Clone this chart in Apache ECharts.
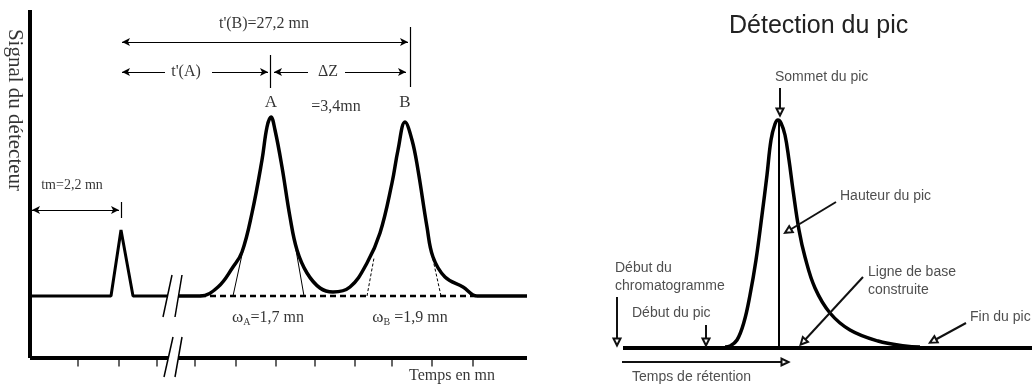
<!DOCTYPE html>
<html>
<head>
<meta charset="utf-8">
<script src="https://cdn.jsdelivr.net/npm/echarts@6/dist/echarts.min.js"></script>
<style>
  html, body { margin: 0; background: #fff; }
  #chart { width: 1033px; height: 389px; }
</style>
</head>
<body>
<div id="chart"></div>
<script>
// left panel: schematic time (x) vs detector signal (y)
const deadPeak = [[0.2, 15.5], [8.1, 15.5], [9.1, 32], [10.3, 15.5], [13.8, 15.5]];
const peaksAB = [
  [14.8, 15.5], [17.0, 15.5], [18.8, 17.75], [20.3, 22.75], [21.2, 26.5], [22.2, 36.25],
  [23.2, 49.5], [23.7, 57.75], [24.1, 60.25], [24.5, 57], [25.2, 47.75], [26.0, 35.25],
  [26.7, 27], [27.7, 21.25], [29.0, 17.5], [30.3, 16.5], [32.0, 17.75], [33.7, 23.75],
  [35.0, 31.25], [36.2, 43.75], [36.8, 52], [37.5, 59], [38.2, 54.5], [38.8, 47],
  [39.7, 32.75], [40.3, 25.25], [41.5, 20.25], [43.3, 17.75], [44.7, 15.5], [49.7, 15.5]
];
const tangentA = [[[20.3, 15.5], [21.3, 27]], [[27.4, 15.5], [26.6, 27]]];
const tangentB = [[[33.7, 15.5], [34.4, 25]], [[41.1, 15.5], [40.2, 25.75]]];
const timeTicks = [4.8, 8.9, 12.7, 16.5, 20.6, 24.6, 28.5, 32.5, 36.2, 40.2, 44.3];

// right panel: detected peak
const detectedPeak = [
  [12.5, 0.25], [13.0, 0.5], [13.7, 2.0], [14.4, 6.5], [15.0, 13.25], [15.6, 22],
  [16.2, 33.25], [16.7, 43.25], [17.1, 52], [17.5, 56], [17.8, 57], [18.1, 56.25],
  [18.5, 53.25], [18.9, 47], [19.3, 39.5], [19.9, 29.5], [20.5, 22.75], [21.5, 15],
  [23.0, 8.75], [25.0, 4.5], [27.8, 1.75], [30.5, 0.5], [32.0, 0.25]
];
const peakApex = [17.9, 57];

const SERIF = "'Liberation Serif', 'Times New Roman', serif";
const SANS = "'Liberation Sans', Arial, sans-serif";
const INK = '#000';
const GREY = '#222';

const chart = echarts.init(document.getElementById('chart'), null, { renderer: 'canvas' });

function line(panel, data, style, extra) {
  return Object.assign({
    type: 'line', xAxisIndex: panel, yAxisIndex: panel, data,
    symbol: 'none', silent: true, animation: false,
    lineStyle: Object.assign({ color: INK, width: 3 }, style)
  }, extra || {});
}

function seg(a, b, s0, s1) {
  return [{ coord: a, symbol: s0 || 'none' }, { coord: b, symbol: s1 || 'none' }];
}

function marks(panel, list, style, size) {
  return {
    type: 'line', xAxisIndex: panel, yAxisIndex: panel, data: [], silent: true, animation: false,
    markLine: {
      silent: true, animation: false, symbol: ['none', 'none'], symbolSize: size || 8,
      label: { show: false }, emphasis: { disabled: true },
      lineStyle: Object.assign({ color: INK, width: 1.2, type: 'solid' }, style),
      itemStyle: { color: style && style.color || INK },
      data: list
    }
  };
}

function notes(panel, list, font, color, size) {
  return {
    type: 'scatter', xAxisIndex: panel, yAxisIndex: panel, symbolSize: 0, silent: true,
    animation: false, clip: false,
    data: list.map(n => ({
      name: n.text, value: n.at,
      label: Object.assign({
        show: true, formatter: '{b}', color: color, fontFamily: font, fontSize: size,
        position: n.left ? 'right' : 'inside', distance: 0
      }, n.label || {})
    }))
  };
}

const omegaRich = {
  w: { fontFamily: SERIF, fontSize: 17, color: INK },
  s: { fontFamily: SERIF, fontSize: 10, color: INK, padding: [9, 0, 0, 0] },
  n: { fontFamily: SERIF, fontSize: 16, color: INK }
};

chart.setOption({
  backgroundColor: '#fff',
  animation: false,
  title: {
    text: 'Détection du pic', left: 724, top: 9,
    textStyle: { fontFamily: SANS, fontSize: 25, fontWeight: 'normal', color: GREY }
  },
  grid: [
    { left: 0, top: 0, width: 527, height: 389 },
    { left: 600, top: 0, width: 433, height: 389 }
  ],
  xAxis: [
    { gridIndex: 0, type: 'value', min: -3, max: 49.7, show: false },
    { gridIndex: 1, type: 'value', min: 0, max: 43.3, show: false }
  ],
  yAxis: [
    { gridIndex: 0, type: 'value', min: -7.75, max: 89.5, show: false },
    { gridIndex: 1, type: 'value', min: -10.25, max: 87, show: false }
  ],
  series: [
    // ---- left panel
    line(0, [[0, 0], [0, 87]], { width: 4 }),
    line(0, [[0, 0], [13.8, 0]], { width: 4 }),
    line(0, [[14.8, 0], [49.7, 0]], { width: 4 }),
    line(0, [[17.0, 15.5], [45.0, 15.5]], { width: 2.5, type: [6, 4] }),
    line(0, deadPeak, { width: 3 }),
    line(0, peaksAB, { width: 3.5 }, { smooth: 0.4 }),
    marks(0, tangentA.map(t => seg(t[0], t[1])), { width: 1 }),
    marks(0, tangentB.map(t => seg(t[0], t[1])), { width: 1, type: [3, 2] }),
    marks(0, [
      seg([13.3, 10.25], [14.2, 20.75]), seg([14.5, 10.25], [15.2, 20.75]),
      seg([13.4, -4.75], [14.3, 5.25]), seg([14.5, -4.75], [15.2, 5.25])
    ], { width: 1.5 }),
    marks(0, [
      seg([0.2, 37], [8.9, 37], 'arrow', 'arrow'),
      seg([9.1, 39], [9.1, 35]),
      seg([9.2, 79], [37.8, 79], 'arrow', 'arrow'),
      seg([9.2, 71.5], [13.5, 71.5], 'arrow'),
      seg([18.2, 71.5], [23.8, 71.5], 'none', 'arrow'),
      seg([24.4, 71.5], [27.8, 71.5], 'arrow'),
      seg([31.5, 71.5], [37.6, 71.5], 'none', 'arrow'),
      seg([24.0, 75.75], [24.0, 67.5]),
      seg([38.0, 82.75], [38.0, 67.75])
    ], { width: 1.2 }, [6, 8]),
    {
      type: 'scatter', xAxisIndex: 0, yAxisIndex: 0, silent: true, animation: false,
      symbol: 'rect', symbolSize: [1.5, 7], symbolOffset: [0, 5],
      itemStyle: { color: INK },
      data: timeTicks.map(t => [t, 0])
    },
    notes(0, [
      { text: 't\'(B)=27,2 mn', at: [23.4, 83.5] },
      { text: 't\'(A)', at: [15.6, 71.5] },
      { text: 'ΔZ', at: [29.8, 71.5] },
      { text: 'A', at: [24.1, 63.75], label: { fontSize: 17 } },
      { text: 'B', at: [37.5, 63.75], label: { fontSize: 17 } },
      { text: '=3,4mn', at: [30.6, 62.75] },
      { text: 'tm=2,2 mn', at: [4.2, 43.25], label: { fontSize: 14 } },
      { text: 'Temps en mn', at: [42.2, -4.5] },
      { text: 'Signal du détecteur', at: [-1.5, 62], label: { fontSize: 21, rotate: -90 } },
      { text: 'wA', at: [23.8, 10], label: { formatter: '{w|ω}{s|A}{n|=1,7 mn}', rich: omegaRich } },
      { text: 'wB', at: [38.0, 10], label: { formatter: '{w|ω}{s|B}{n| =1,9 mn}', rich: omegaRich } }
    ], SERIF, INK, 16),

    // ---- right panel
    line(1, [[2.3, 0], [43.2, 0]], { width: 4 }),
    line(1, detectedPeak, { width: 3.5 }, { smooth: 0.4 }),
    line(1, [peakApex, [peakApex[0], 0]], { width: 2 }),
    marks(1, [
      seg([18.0, 65], [18.0, 59], 'none', 'emptyTriangle'),
      seg([23.6, 36.5], [18.8, 29.25], 'none', 'emptyTriangle'),
      seg([26.3, 17.75], [20.3, 1.5], 'none', 'emptyTriangle'),
      seg([36.6, 6.25], [33.3, 1.75], 'none', 'emptyTriangle'),
      seg([1.7, 12.75], [1.7, 1.5], 'none', 'emptyTriangle'),
      seg([10.6, 5.75], [10.6, 1.5], 'none', 'emptyTriangle'),
      seg([2.2, -3.5], [18.5, -3.5], 'none', 'emptyTriangle')
    ], { width: 2, color: '#111' }, 7),
    notes(1, [
      { text: 'Sommet du pic', at: [17.5, 67.75], left: true },
      { text: 'Hauteur du pic', at: [24.0, 38], left: true },
      { text: 'Ligne de base\nconstruite', at: [26.8, 16.75], left: true, label: { lineHeight: 18 } },
      { text: 'Fin du pic', at: [37.0, 7.75], left: true },
      { text: 'Début du\nchromatogramme', at: [1.5, 17.75], left: true, label: { lineHeight: 18 } },
      { text: 'Début du pic', at: [3.2, 8.75], left: true },
      { text: 'Temps de rétention', at: [3.2, -7.25], left: true }
    ], SANS, GREY, 14)
  ]
});
</script>
</body>
</html>
